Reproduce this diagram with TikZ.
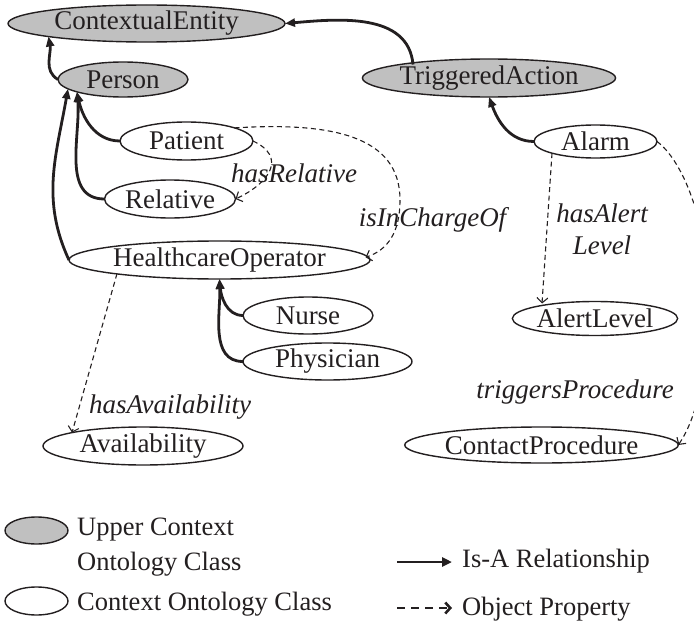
\documentclass[tikz,border=0pt]{standalone}
\usepackage{fontspec}
\setmainfont{Liberation Serif}
\usetikzlibrary{arrows.meta,shapes.geometric,calc}
\definecolor{upper}{RGB}{192,192,192}
\definecolor{ink}{RGB}{35,31,32}
\begin{document}
\begin{tikzpicture}[x=1pt,y=-1pt,
  cls/.style={ellipse, draw=ink, line width=1.4pt, inner sep=0pt, outer sep=0pt, text=ink, font=\fontsize{27}{31}\selectfont},
  upcls/.style={cls, fill=upper},
  isa/.style={draw=ink, line width=2.8pt, -{Triangle[length=10pt,width=8pt]}},
  prop/.style={draw=ink, line width=1.1pt, dash pattern=on 5pt off 3.5pt, -{Straight Barb[length=5pt,width=11pt,line width=1.1pt]}},
  lbl/.style={text=ink, font=\fontsize{27}{32}\selectfont\itshape, inner sep=0pt},
  legtxt/.style={text=ink, font=\fontsize{26.5}{30}\selectfont, inner sep=0pt, anchor=base west},
]
\useasboundingbox (0,0) rectangle (694,626);

% classes
\node[upcls, minimum width=277pt, minimum height=37pt] (ce) at (146.5,23.5) {ContextualEntity};
\node[upcls, minimum width=130pt, minimum height=35pt] (person) at (123,79.5) {Person};
\node[upcls, minimum width=216pt, minimum height=38pt] (ta) at (489,78) {TriggeredAction};
\node[cls, minimum width=133pt, minimum height=38pt] (patient) at (186.5,141) {Patient};
\node[cls, minimum width=131pt, minimum height=38pt] (relative) at (170,199) {Relative};
\node[cls, minimum width=295pt, minimum height=38pt] (ho) at (219.5,260) {HealthcareOperator};
\node[cls, minimum width=123pt, minimum height=33pt] (alarm) at (595.5,141.5) {Alarm};
\node[cls, minimum width=154pt, minimum height=34pt] (alert) at (595,318.5) {AlertLevel};
\node[cls, minimum width=130pt, minimum height=37pt] (nurse) at (308,315.5) {Nurse};
\node[cls, minimum width=169pt, minimum height=37pt] (phys) at (327.5,361.5) {Physician};
\node[cls, minimum width=200pt, minimum height=38pt] (avail) at (143,446) {Availability};
\node[cls, minimum width=263pt, minimum height=36pt] (cp) at (541.5,445) {ContactProcedure};

% is-a
\draw[isa] (person.west) to[out=150,in=-80] ($(ce.center)+(-98,13)$);
\draw[isa] ($(ta.center)+(-76,-13.5)$) to[out=95,in=5] (ce.east);
\draw[isa] (patient.west) to[out=180,in=-78] ($(person.center)+(-46,12.4)$);
\draw[isa] (relative.west) to[out=180,in=-85] ($(person.center)+(-46,12.4)$);
\draw[isa] (ho.west) to[out=115,in=-100] ($(person.center)+(-55,9.3)$);
\draw[isa] (nurse.west) to[out=180,in=-85] (ho.south);
\draw[isa] (phys.west) to[out=180,in=-88] (ho.south);
\draw[isa] (alarm.west) to[out=180,in=-70] (ta.south);

% object properties
\draw[prop] (patient.east) to[out=-25,in=25,looseness=1.6] (relative.east);
\draw[prop] ($(patient.center)+(48,-13.1)$) .. controls (330,122) and (400,135) .. (400,200) .. controls (400,232) and (388,250) .. ($(ho.center)+(146,-2.7)$);
\draw[prop] ($(alarm.center)+(-43.5,11.7)$) -- ($(alert.center)+(-53,-15)$);
\draw[prop] (alarm.east) .. controls (682,160) and (708,220) .. (708,300) .. controls (708,385) and (692,425) .. (cp.east);
\draw[prop] ($(ho.center)+(-102.5,13.7)$) -- ($(avail.center)+(-71,-13.4)$);

% labels
\node[lbl] (l1) at (294,173) {hasRelative};
\node[lbl] (l2) at (432.5,220) {isInChargeOf};
\node[lbl, align=center] (l3) at (602,229) {hasAlert\\Level};
\node[lbl] (l4) at (170,407) {hasAvailability};
\node[lbl] (l5) at (575,392) {triggersProcedure};

% legend
\node[upcls, minimum width=63pt, minimum height=27pt] (legup) at (36.5,530.5) {};
\node[cls, minimum width=63pt, minimum height=28pt] (legctx) at (36.5,601) {};
\node[legtxt] (t1) at (77,535) {Upper Context};
\node[legtxt] (t2) at (77,570) {Ontology Class};
\node[legtxt] (t3) at (77,610) {Context Ontology Class};
\coordinate (a1s) at (397,562);
\coordinate (a1e) at (452,562);
\draw[draw=ink, line width=2.5pt, -{Triangle[length=10pt,width=9pt]}] (a1s) -- (a1e);
\node[legtxt] (t4) at (462,567) {Is-A Relationship};
\coordinate (a2s) at (397,608);
\coordinate (a2e) at (452,608);
\draw[draw=ink, line width=2.6pt, dash pattern=on 8pt off 6pt, -{Straight Barb[length=5pt,width=11pt]}] (a2s) -- (a2e);
\node[legtxt] (t5) at (462,615) {Object Property};
\end{tikzpicture}
\end{document}
